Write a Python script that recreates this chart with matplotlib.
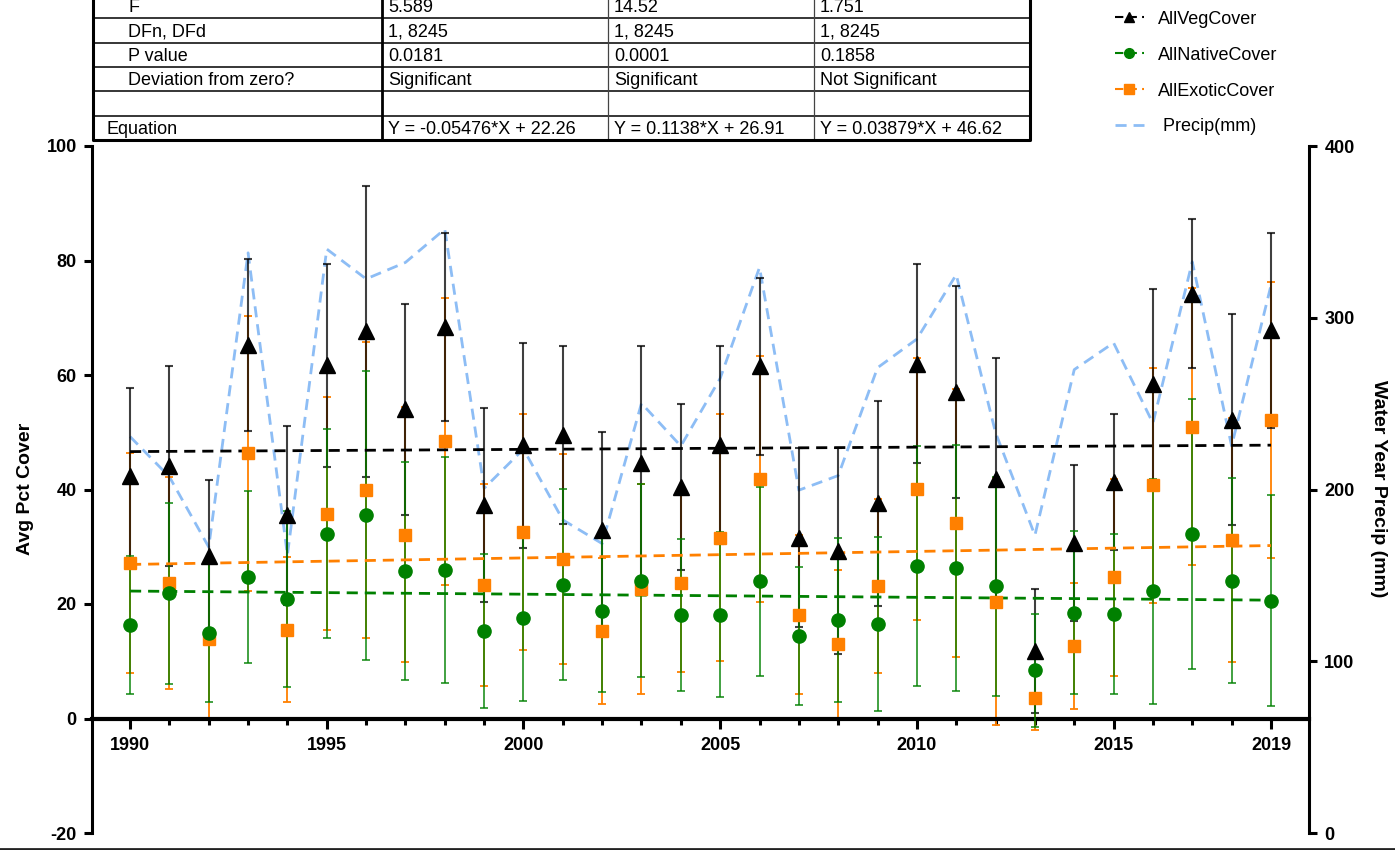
import matplotlib
matplotlib.use("Agg")
import matplotlib.pyplot as plt
from matplotlib.lines import Line2D
import numpy as np

plt.rcParams['font.family'] = ['Liberation Sans', 'DejaVu Sans']
plt.rcParams['axes.unicode_minus'] = False

# yearly means and error
years = list(range(1990, 2020))
veg = [42.3, 44.1, 28.3, 65.2, 35.5, 61.7, 67.6, 54.0, 68.4, 37.3,
       47.7, 49.5, 33.0, 44.6, 40.5, 47.7, 61.5, 31.6, 29.3, 37.6,
       62.0, 57.1, 41.9, 11.8, 30.6, 41.3, 58.4, 74.2, 52.2, 67.8]
veg_err = [15.4, 17.5, 13.4, 15.0, 15.6, 17.7, 25.4, 18.4, 16.4, 17.0,
           17.9, 15.5, 17.0, 20.5, 14.5, 17.3, 15.4, 15.6, 18.0, 17.9,
           17.4, 18.5, 21.1, 10.8, 13.6, 11.9, 16.7, 13.0, 18.4, 17.0]
native = [16.3, 21.9, 14.9, 24.7, 20.9, 32.3, 35.5, 25.8, 25.9, 15.3,
          17.5, 23.4, 18.7, 24.1, 18.1, 18.1, 24.0, 14.4, 17.2, 16.5,
          26.6, 26.3, 23.1, 8.4, 18.5, 18.3, 22.2, 32.2, 24.1, 20.6]
native_err = [12.0, 15.8, 12.0, 15.0, 15.4, 18.2, 25.2, 19.0, 19.7, 13.4,
              14.4, 16.7, 14.0, 16.8, 13.3, 14.4, 16.5, 12.0, 14.4, 15.2,
              21.0, 21.5, 19.1, 9.8, 14.2, 14.0, 19.7, 23.6, 17.9, 18.5]
exotic = [27.1, 23.7, 13.8, 46.3, 15.5, 35.8, 39.9, 32.1, 48.4, 23.3,
          32.6, 27.9, 15.3, 22.6, 23.7, 31.6, 41.9, 18.1, 13.0, 23.1,
          40.1, 34.2, 20.4, 3.5, 12.7, 24.7, 40.7, 51.0, 31.2, 52.2]
exotic_err = [19.2, 18.5, 13.8, 24.0, 12.7, 20.4, 25.8, 22.3, 25.0, 17.7,
              20.6, 18.3, 12.7, 18.4, 15.5, 21.6, 21.5, 13.9, 13.0, 15.2,
              22.9, 23.4, 21.6, 5.5, 11.0, 17.2, 20.6, 24.2, 21.3, 24.1]
precip = [230.8, 207.4, 166.5, 337.8, 161.8, 340.0, 322.6, 332.2, 351.6, 200.7,
          223.5, 182.3, 168.5, 250.2, 225.3, 264.7, 329.3, 199.6, 208.1, 270.9,
          287.6, 325.1, 233.1, 173.3, 269.8, 285.4, 238.6, 332.6, 225.3, 318.8]

# regression results (native, exotic, veg), X = years since 1990
fit_F = ["5.589", "14.52", "1.751"]
fit_df = ["1, 8245", "1, 8245", "1, 8245"]
fit_p = ["0.0181", "0.0001", "0.1858"]
fit_sig = ["Significant", "Significant", "Not Significant"]
slopes = [-0.05476, 0.1138, 0.03879]
intercepts = [22.26, 26.91, 46.62]

label_years = [1990, 1995, 2000, 2005, 2010, 2015, 2019]

BLACK = 'black'
GREEN = '#008000'
ORANGE = '#FF8000'
BLUE = '#8DBDF5'
DASH = (0, (4, 2.5))

fig = plt.figure(figsize=(13.95, 8.5), dpi=100)
W, H = 1395, 850
ax = fig.add_axes([92 / W, 17 / H, (1309 - 92) / W, (833 - 146) / H])
ax2 = ax.twinx()
ax.set_zorder(ax2.get_zorder() + 1)
ax.patch.set_visible(False)

yrs = np.array(years)

# error bars
ax.errorbar(yrs, exotic, yerr=exotic_err, fmt='none', ecolor=ORANGE,
            elinewidth=1.3, capsize=3, capthick=1.3, zorder=2)
ax.errorbar(yrs, veg, yerr=veg_err, fmt='none', ecolor=BLACK, alpha=0.75,
            elinewidth=1.5, capsize=3, capthick=1.5, zorder=3)
ax.errorbar(yrs, native, yerr=native_err, fmt='none', ecolor=GREEN, alpha=0.8,
            elinewidth=1.3, capsize=3, capthick=1.3, zorder=4)

# trend lines
x_fit = np.array([years[0], years[-1]])
for s, b, c in zip(slopes, intercepts, [GREEN, ORANGE, BLACK]):
    ax.plot(x_fit, s * (x_fit - years[0]) + b, color=c, lw=2, ls=DASH, zorder=5)

# markers
ax.plot(yrs, exotic, 's', color=ORANGE, ms=9, zorder=6)
ax.plot(yrs, native, 'o', color=GREEN, ms=9.5, zorder=7)
ax.plot(yrs, veg, '^', color=BLACK, ms=11, zorder=8)

# precip on right axis
ax2.plot(yrs, precip, color=BLUE, lw=2, ls=DASH)

ax.set_xlim(years[0] - 0.967, years[-1] + 0.967)
ax.set_ylim(-20, 100)
ax2.set_ylim(0, 400)

ax.spines['top'].set_visible(False)
ax.spines['right'].set_visible(False)
ax.spines['bottom'].set_position(('data', 0))
ax.spines['bottom'].set_linewidth(3)
ax.spines['left'].set_linewidth(2.2)
for s in ['top', 'left', 'bottom']:
    ax2.spines[s].set_visible(False)
ax2.spines['right'].set_linewidth(2.2)

ax.set_xticks(label_years)
ax.set_xticks(years, minor=True)
ax.set_xticklabels([str(y) for y in label_years])
ax.set_yticks([-20, 0, 20, 40, 60, 80, 100])
ax2.set_yticks([0, 100, 200, 300, 400])

ax.tick_params(axis='x', which='major', length=7, width=2.2, pad=6)
ax.tick_params(axis='x', which='minor', length=4.5, width=2.2)
ax.tick_params(axis='y', length=6, width=2.2, pad=5)
ax2.tick_params(axis='y', length=6, width=2.2, pad=5)
for lab in ax.get_xticklabels() + ax.get_yticklabels() + ax2.get_yticklabels():
    lab.set_fontweight('bold')
    lab.set_fontsize(13)

fig.text(26 / W, 1 - 489 / H, 'Avg Pct Cover', rotation=90, ha='center',
         va='center', fontsize=14, fontweight='bold')
fig.text(1378 / W, 1 - 489 / H, 'Water Year Precip (mm)', rotation=270,
         ha='center', va='center', fontsize=14, fontweight='bold')

# legend
handles = [
    Line2D([], [], color=BLACK, ls=DASH, lw=1.5, marker='^', ms=7),
    Line2D([], [], color=GREEN, ls=DASH, lw=1.5, marker='o', ms=7),
    Line2D([], [], color=ORANGE, ls=DASH, lw=1.5, marker='s', ms=7),
    Line2D([], [], color=BLUE, ls=DASH, lw=2),
]
fig.legend(handles, ['AllVegCover', 'AllNativeCover', 'AllExoticCover', ' Precip(mm)'],
           loc='upper left', bbox_to_anchor=(1111 / W, 1 - 7 / H), frameon=False,
           borderaxespad=0, borderpad=0.2,
           fontsize=13, handlelength=1.6, handletextpad=0.8, labelspacing=1.05)

# stats table at the top
rows = [
    ["F"] + fit_F,
    ["DFn, DFd"] + fit_df,
    ["P value"] + fit_p,
    ["Deviation from zero?"] + fit_sig,
    ["", "", "", ""],
    ["Equation"] + ["Y = %s*X + %s" % (format(s, 'g'), format(b, 'g'))
                    for s, b in zip(slopes, intercepts)],
]
tab = fig.add_axes([93 / W, 1 - 140 / H, (1030 - 93) / W, 146 / H])
tab.set_xlim(0, 937)
tab.set_ylim(len(rows), 0)
tab.axis('off')
col_edges = [0, 289, 515, 721, 937]
for i in range(1, len(rows)):
    tab.plot([0, 937], [i, i], color='black', lw=1.1)
tab.plot([col_edges[1]] * 2, [0, len(rows)], color='black', lw=2)
for cx in col_edges[2:-1]:
    tab.plot([cx, cx], [0, len(rows)], color='#444444', lw=0.9)
tab.plot([0, 937, 937, 0, 0], [0, 0, len(rows), len(rows), 0], color='black',
         lw=2.2, clip_on=False)
for i, row in enumerate(rows):
    for j, txt in enumerate(row):
        if j == 0:
            x0 = 13 if txt == "Equation" else 35
        else:
            x0 = col_edges[j] + 6
        tab.text(x0, i + 0.55, txt, ha='left', va='center', fontsize=13)

fig.add_artist(Line2D([0, 1], [1.5 / H, 1.5 / H], color='#222222', lw=2,
                      transform=fig.transFigure))

fig.savefig('out.png', dpi=100)
